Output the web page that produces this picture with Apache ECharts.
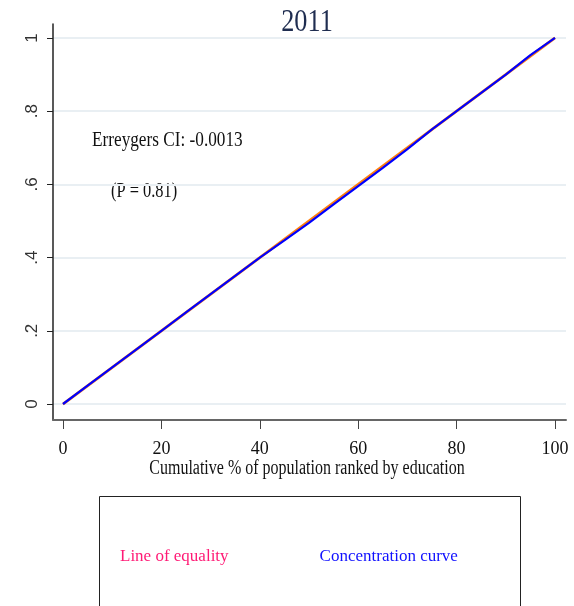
<!DOCTYPE html>
<html><head><meta charset="utf-8">
<script src="https://cdn.jsdelivr.net/npm/echarts@6/dist/echarts.min.js"></script>
<style>html,body{margin:0;padding:0;background:#fff}#c{width:574px;height:606px}</style>
</head><body><div id="c"></div>
<script>
// Data
const popShare = [0,5,10,15,20,25,30,35,40,45,50,55,60,65,70,75,80,85,90,95,100];
const concentration = [0,0.05,0.1,0.15,0.2,0.25,0.3,0.35,0.4,0.447,0.495,0.545,0.595,0.645,0.696,0.75,0.8,0.85,0.9,0.953,1];
const equalityX = [0,100];
const equalityY = [0,1];
const xTicks = [0,20,40,60,80,100];
const yTicks = [0,0.2,0.4,0.6,0.8,1];
const yTickLabels = ['0','.2','.4','.6','.8','1'];
const titleText = '2011';
const ciText = 'Erreygers CI: -0.0013';
const pText = '(P = 0.81)';
const xName = 'Cumulative % of population ranked by education';

const chart = echarts.init(document.getElementById('c'));
const serif = '"Liberation Serif", "DejaVu Serif", serif';
const sans = '"Liberation Sans", Arial, sans-serif';
chart.setOption({
  animation:false,
  backgroundColor:'#fff',
  grid:{left:53,right:8,top:24,bottom:186,containLabel:false},
  xAxis:{type:'value',min:-2.03,max:102.24,
    axisLine:{show:true,onZero:false,lineStyle:{color:'#666',width:2}},
    axisTick:{show:true,customValues:xTicks,length:9,lineStyle:{color:'#444',width:1}},
    axisLabel:{customValues:xTicks,color:'#111',fontSize:18,fontFamily:serif,margin:20},
    splitLine:{show:false}},
  yAxis:{type:'value',min:-0.0437,max:1.038,
    axisLine:{show:true,onZero:false,lineStyle:{color:'#222',width:1.5}},
    axisTick:{show:true,customValues:yTicks,length:6,lineStyle:{color:'#222'}},
    axisLabel:{customValues:yTicks,rotate:90,color:'#333',fontSize:17,fontFamily:sans,margin:12,
      formatter:v=>{const i=yTicks.findIndex(t=>Math.abs(t-v)<1e-6);return i>=0?yTickLabels[i]:'';}},
    splitLine:{show:true,lineStyle:{color:'#e9eff3',width:2}}},
  legend:{show:true,left:110,top:543,icon:'none',itemWidth:0,itemGap:86,
    data:[{name:'Line of equality',textStyle:{color:'#ff1a75'}},{name:'Concentration curve',textStyle:{color:'#1010ff'}}],
    textStyle:{fontFamily:serif,fontSize:17},selectedMode:false},
  series:[
    {name:'Line of equality',type:'line',data:equalityX.map((x,i)=>[x,equalityY[i]]),showSymbol:false,
      lineStyle:{color:'#ff7f0e',width:2.8},itemStyle:{color:'#ff1a75'},z:2},
    {name:'Concentration curve',type:'line',data:popShare.map((x,i)=>[x,concentration[i]]),showSymbol:false,
      lineStyle:{color:'#0000ff',width:2.2},itemStyle:{color:'#1010ff'},z:3}
  ],
  graphic:[
    {type:'text',x:307,y:7,scaleX:0.82,originX:0,style:{text:titleText,fontFamily:serif,fontSize:32,fill:'#1f2d50',align:'center'}},
    {type:'text',x:92,y:130,scaleX:0.82,originX:0,style:{text:ciText,fontFamily:serif,fontSize:21,fill:'#111'}},
    {type:'text',x:111,y:182,scaleX:0.82,originX:0,style:{text:pText,fontFamily:serif,fontSize:20,fill:'#111'}},
    {type:'text',x:307,y:459,scaleX:0.8,originX:0,style:{text:xName,fontFamily:serif,fontSize:20,fill:'#111',align:'center'}},
    {type:'rect',shape:{x:99.5,y:496.5,width:421,height:130},style:{fill:'none',stroke:'#222',lineWidth:1},z:-1}
  ]
});
</script></body></html>
